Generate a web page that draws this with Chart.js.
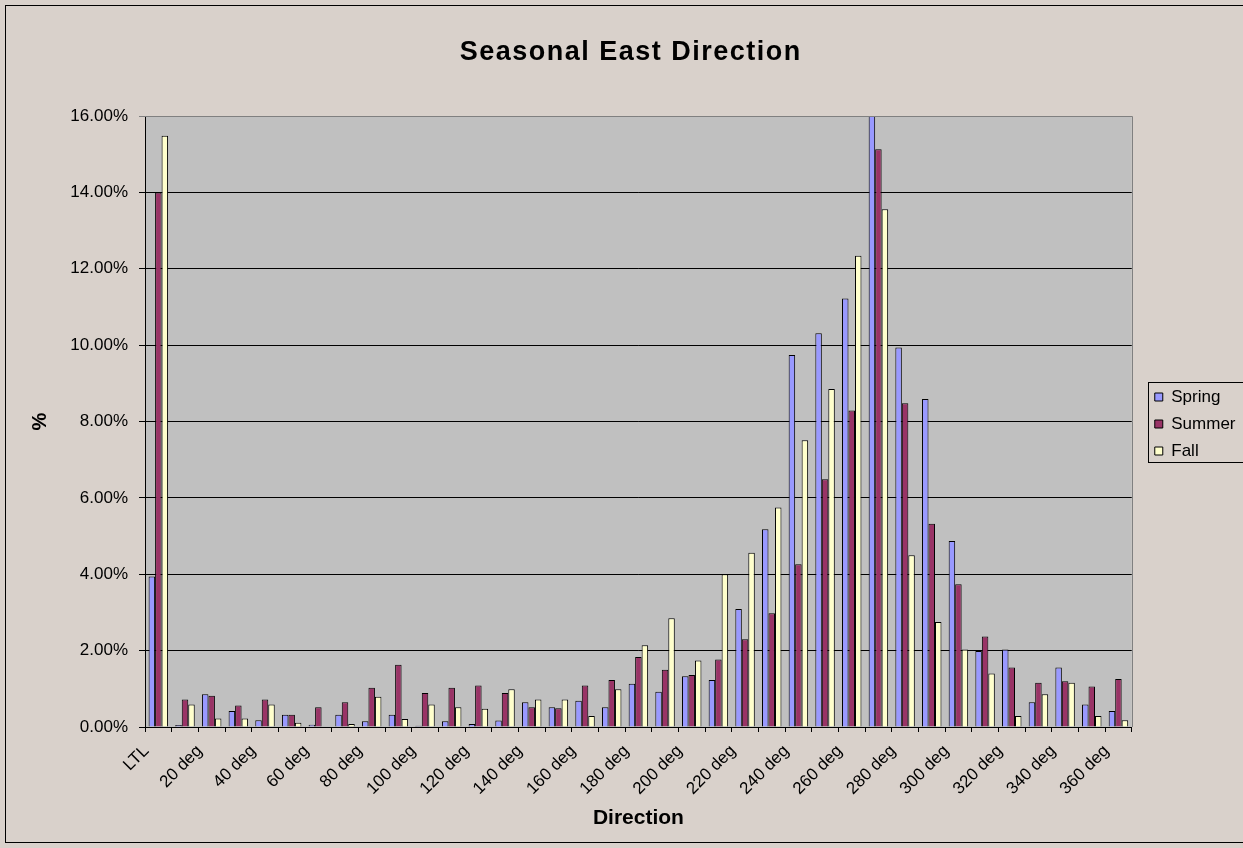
<!DOCTYPE html>
<html>
<head>
<meta charset="utf-8">
<script src="https://cdn.jsdelivr.net/npm/chart.js@4.4.1/dist/chart.umd.min.js"></script>
<style>
html,body{margin:0;padding:0;background:#D9D1CB;overflow:hidden;}
#wrap{width:1243px;height:848px;position:relative;}
canvas{display:block;}
</style>
</head>
<body>
<div id="wrap"><canvas id="c" width="1243" height="848" style="width:1243px;height:848px"></canvas></div>
<script>
const categories = ['LTL','10 deg','20 deg','30 deg','40 deg','50 deg','60 deg','70 deg','80 deg','90 deg',
  '100 deg','110 deg','120 deg','130 deg','140 deg','150 deg','160 deg','170 deg','180 deg','190 deg',
  '200 deg','210 deg','220 deg','230 deg','240 deg','250 deg','260 deg','270 deg','280 deg','290 deg',
  '300 deg','310 deg','320 deg','330 deg','340 deg','350 deg','360 deg'];
const xTickLabels = ['LTL','','20 deg','','40 deg','','60 deg','','80 deg','',
  '100 deg','','120 deg','','140 deg','','160 deg','','180 deg','',
  '200 deg','','220 deg','','240 deg','','260 deg','','280 deg','',
  '300 deg','','320 deg','','340 deg','','360 deg'];
const spring = [3.94,0.05,0.86,0.42,0.18,0.32,0.06,0.32,0.15,0.32,
  0.03,0.15,0.08,0.17,0.65,0.52,0.69,0.52,1.13,0.92,
  1.33,1.23,3.09,5.18,9.74,10.31,11.22,16.05,9.94,8.59,
  4.87,1.99,2.03,0.65,1.56,0.59,0.42];
const summer = [14.00,0.72,0.82,0.56,0.72,0.32,0.52,0.65,1.03,1.63,
  0.89,1.03,1.09,0.89,0.52,0.49,1.09,1.23,1.83,1.50,
  1.36,1.77,2.30,2.98,4.26,6.49,8.29,15.13,8.48,5.32,
  3.74,2.37,1.56,1.16,1.20,1.06,1.26];
const fall = [15.48,0.59,0.22,0.22,0.59,0.11,0.00,0.08,0.79,0.21,
  0.59,0.52,0.48,0.99,0.72,0.72,0.29,0.99,2.14,2.85,
  1.74,4.00,4.56,5.75,7.51,8.85,12.34,13.56,4.50,2.75,
  2.03,1.40,0.29,0.86,1.16,0.29,0.18];
const seriesNames = ['Spring','Summer','Fall'];
const seriesColors = ['#9999FF','#993366','#FFFFCC'];
const yMin = 0, yMax = 16, yStep = 2;

const FONT = "'Liberation Sans', Arial, sans-serif";
const BG = '#D9D1CB';

const decor = {
  id: 'decor',
  afterLayout(chart) {
    const tb = chart.titleBlock;
    if (tb && !tb._spaced) {
      const orig = tb.draw.bind(tb);
      tb.draw = function(area) {
        const ctx = chart.ctx;
        ctx.save();
        ctx.letterSpacing = '1.5px';
        orig(area);
        ctx.restore();
      };
      tb._spaced = true;
    }
  },
  beforeDraw(chart) {
    const {ctx, chartArea: a} = chart;
    ctx.save();
    ctx.fillStyle = BG;
    ctx.fillRect(0, 0, chart.width, chart.height);
    ctx.fillStyle = '#C0C0C0';
    ctx.fillRect(a.left, a.top, a.right - a.left, a.bottom - a.top);
    ctx.strokeStyle = '#000';
    ctx.lineWidth = 1;
    ctx.strokeRect(5.5, 5.5, chart.width + 20, 837);
    ctx.restore();
  },
  afterDraw(chart) {
    const {ctx, chartArea: a} = chart;
    ctx.save();
    ctx.strokeStyle = '#808080';
    ctx.lineWidth = 1;
    ctx.beginPath();
    ctx.moveTo(a.left, Math.round(a.top) + 0.5);
    ctx.lineTo(Math.round(a.right) + 0.5, Math.round(a.top) + 0.5);
    ctx.lineTo(Math.round(a.right) + 0.5, a.bottom);
    ctx.stroke();
    const hb = chart.legend && chart.legend.legendHitBoxes;
    if (hb && hb.length) {
      const first = hb[0], last = hb[hb.length - 1];
      const t = Math.round(first.top + first.height / 2 - 15) + 0.5;
      const b = Math.round(last.top + last.height / 2 + 11) + 0.5;
      const l = Math.round(first.left - 7) + 0.5;
      ctx.strokeStyle = '#000';
      ctx.strokeRect(l, t, 300, b - t);
    }
    ctx.restore();
  }
};

new Chart(document.getElementById('c'), {
  type: 'bar',
  data: {
    labels: categories,
    datasets: [
      {label: seriesNames[0], data: spring, backgroundColor: seriesColors[0]},
      {label: seriesNames[1], data: summer, backgroundColor: seriesColors[1]},
      {label: seriesNames[2], data: fall, backgroundColor: seriesColors[2]}
    ].map(d => Object.assign(d, {borderColor: '#000', borderWidth: 1, categoryPercentage: 0.73, barPercentage: 1.0}))
  },
  options: {
    responsive: false,
    animation: false,
    devicePixelRatio: 1,
    layout: {padding: {left: 16, right: -2.5, top: 0, bottom: 0}},
    plugins: {
      title: {
        display: true,
        text: 'Seasonal East Direction',
        color: '#000',
        font: {family: FONT, size: 27, weight: 'bold'},
        padding: {top: 36, bottom: 47.6}
      },
      legend: {
        position: 'right',
        labels: {
          color: '#000',
          font: {family: FONT, size: 17},
          boxWidth: 8,
          boxHeight: 8,
          padding: 10
        }
      },
      tooltip: {enabled: false}
    },
    scales: {
      x: {
        ticks: {
          autoSkip: false,
          maxRotation: 45,
          minRotation: 45,
          color: '#000',
          font: {family: FONT, size: 17},
          padding: 9,
          labelOffset: -12,
          callback: (v, i) => xTickLabels[i]
        },
        grid: {drawOnChartArea: false, drawTicks: true, tickLength: 5, color: '#000'},
        border: {color: '#000', width: 1},
        title: {
          display: true,
          text: 'Direction',
          color: '#000',
          font: {family: FONT, size: 21, weight: 'bold'},
          padding: {top: 0, bottom: 17}
        },
        afterFit: s => { s.height = 121; }
      },
      y: {
        min: yMin,
        max: yMax,
        ticks: {
          stepSize: yStep,
          color: '#000',
          font: {family: FONT, size: 17},
          padding: 11,
          callback: v => Number(v).toFixed(2) + '%'
        },
        grid: {
          color: c => (c.tick && c.tick.value === yMax) ? '#808080' : '#000',
          lineWidth: 1,
          tickLength: 6,
          drawTicks: true
        },
        border: {color: '#000', width: 1},
        title: {
          display: true,
          text: '%',
          color: '#000',
          font: {family: FONT, size: 20, weight: 'bold'},
          padding: {top: 12, bottom: 0}
        },
        afterFit: s => { s.width = 129; }
      },
      gap: {
        position: 'right',
        display: true,
        grid: {display: false, drawTicks: false},
        ticks: {display: false},
        border: {display: false},
        afterFit: s => { s.width = 13; }
      }
    }
  },
  plugins: [decor]
});
</script>
</body>
</html>
